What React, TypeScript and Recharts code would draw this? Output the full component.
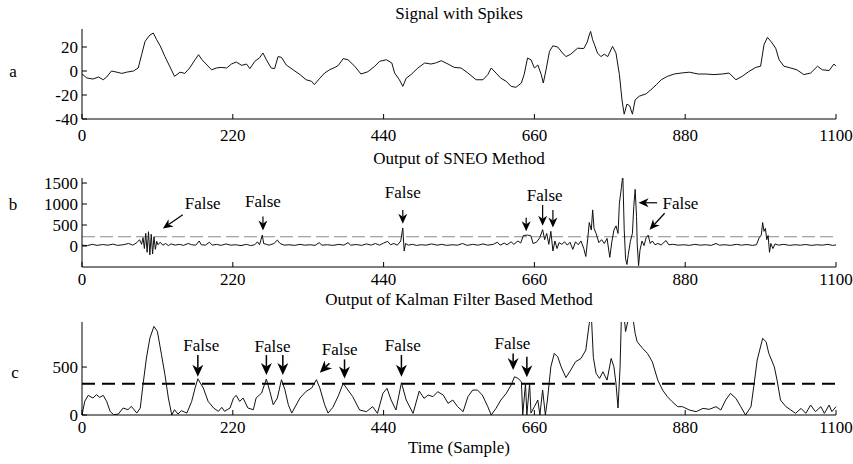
import React from 'react';
import { LineChart, Line, XAxis, YAxis, ReferenceLine, ReferenceDot } from 'recharts';

const FONT = '"Liberation Serif", "Times New Roman", serif';

const xTicks = [0, 220, 440, 660, 880, 1100];

// a: raw signal
const sigT = [0, 7, 16, 24, 31, 36, 43, 51, 58, 65, 75, 82, 87, 92, 99, 104, 109, 114, 121, 127, 135, 143, 150, 157, 165, 170, 175, 181, 189, 196, 203, 211, 218, 225, 233, 240, 245, 252, 259, 264, 269, 276, 281, 286, 291, 298, 308, 318, 327, 335, 339, 347, 354, 361, 369, 374, 381, 388, 398, 407, 417, 427, 434, 444, 452, 456, 463, 468, 473, 480, 490, 500, 509, 516, 524, 534, 543, 553, 563, 575, 585, 592, 597, 604, 611, 619, 626, 633, 641, 645, 650, 655, 660, 665, 670, 673, 677, 682, 687, 694, 701, 706, 713, 723, 732, 737, 740, 742, 745, 747, 752, 757, 762, 767, 774, 779, 784, 788, 791, 795, 799, 803, 807, 813, 823, 830, 838, 845, 854, 864, 874, 886, 899, 910, 922, 934, 944, 954, 963, 973, 983, 990, 995, 1000, 1005, 1012, 1017, 1024, 1034, 1043, 1053, 1063, 1073, 1080, 1090, 1097, 1100];
const sigV = [-2.5, -5.8, -6.7, -5, -7.3, -5, 0, -1, -2, -1, 0, 2.5, 13.6, 24.7, 30, 31.6, 26, 21, 12, 5, -4.5, -1, -2, 2.5, 9.4, 13.6, 9.4, 5.8, 1, 2.5, 3, 2.5, 5.8, 7.5, 4.7, 5.8, 2, 8, 11, 15, 9.4, 2.5, 2, 12, 11.4, 5, 1, -3, -7.3, -8.6, -11.4, -6, -1.7, 1, 3, 4.7, 10.3, 9.4, 3.9, -2.5, -0.6, 3.9, 8, 9.4, 6.7, -1.6, -7.3, -12.8, -6, -3, 2.5, 6.7, 5.8, 6.7, 8.6, 5.8, 3, 2.5, -1.7, -7.3, -7.3, -3, 2.5, -1.7, -6, -8.6, -12.8, -13.6, -10, -3, 10.8, 9.4, 2.5, 5, -3, -10, 1, 16.4, 21, 20, 15, 12, 14, 19, 18.7, 24, 30, 33, 26, 23, 15, 12, 14, 12, 20.5, 15, -3, -25, -36, -27.6, -29, -36, -24, -21, -19, -15.6, -11.4, -7.3, -4.5, -2.5, -1.7, -1, -2.5, -2.5, -3, -2.5, -1.7, -7.3, -4.5, -0.4, 3, 4, 22, 28, 24.7, 19, 9.4, 4, 2.5, 1, -3, -1.7, 4, 1, 0.4, 5.8, 4];

// b: SNEO output
const sneoT = [0, 8, 15, 22, 30, 38, 45, 52, 60, 68, 74, 80, 84, 87, 89, 91, 93, 95, 97, 99, 101, 103, 105, 107, 109, 111, 114, 118, 122, 126, 130, 136, 142, 148, 155, 160, 166, 171, 174, 180, 186, 190, 196, 203, 210, 217, 224, 232, 240, 246, 252, 256, 259, 263, 265, 269, 273, 280, 285, 289, 295, 302, 310, 318, 325, 333, 340, 346, 350, 358, 366, 375, 382, 388, 392, 400, 408, 415, 422, 428, 434, 440, 446, 450, 455, 460, 465, 468, 470, 472, 476, 482, 488, 495, 502, 510, 518, 525, 532, 540, 548, 555, 562, 570, 578, 585, 592, 600, 606, 610, 616, 620, 626, 630, 636, 640, 644, 650, 655, 658, 663, 668, 672, 675, 678, 681, 684, 687, 690, 693, 696, 700, 704, 708, 712, 716, 720, 724, 728, 732, 735, 738, 740, 743, 745, 747, 750, 754, 758, 762, 766, 770, 773, 776, 779, 782, 784, 787, 789, 791, 793, 795, 797, 800, 803, 805, 807, 809, 810, 812, 814, 817, 820, 823, 826, 829, 832, 836, 840, 845, 852, 856, 862, 870, 878, 886, 894, 902, 910, 918, 925, 930, 938, 946, 955, 962, 970, 978, 984, 988, 991, 993, 995, 997, 999, 1001, 1003, 1005, 1008, 1011, 1016, 1024, 1032, 1040, 1048, 1056, 1064, 1072, 1080, 1088, 1095, 1100];
const sneoV = [20, 10, 40, 15, 35, 20, 45, 15, 30, 60, 20, 80, 150, 40, 200, -60, 300, -150, 340, -210, 280, -190, 220, -80, 110, 30, 90, 20, 60, 10, 50, 20, 40, 15, 60, 30, 20, 120, 30, 20, 90, 20, 40, 15, 50, 20, 30, 10, 40, 10, 30, 100, 30, 260, 60, 40, 20, 60, 140, 60, 20, 30, 15, 40, 20, 30, 15, 80, 20, 30, 15, 40, 20, 80, 20, 35, 15, 50, 20, 60, 20, 70, 110, 30, 60, 20, 120, 430, -120, 60, 20, 40, 15, 30, 20, 50, 20, 40, 15, 30, 20, 60, 15, 40, 20, 50, 20, 40, 90, 20, 70, 30, 100, 40, 120, 70, 250, 260, 240, 60, 90, 200, 390, 150, 300, 40, 350, -120, 120, -60, 80, 40, 100, 20, 90, -80, 100, 30, 120, -60, -250, 200, 560, 380, 860, 420, 300, 80, 150, 60, 180, -270, 100, 380, 480, 300, 1020, 1400, 1700, 400, -300, -440, -200, 110, 300, 940, 1350, 700, 50, -470, -100, 120, 10, 200, 260, 60, 120, 30, 60, 25, 130, 30, 40, 20, 30, 15, 40, 20, 30, 15, 60, 20, 30, 15, 40, 20, 35, 15, 30, 200, 260, 560, 350, 420, 150, 250, -150, 60, -60, 50, 20, 40, 15, 30, 20, 35, 15, 30, 20, 40, 15, 25];

// c: Kalman filter output
const kalT = [0, 4, 9, 16, 21, 26, 31, 36, 41, 46, 53, 60, 67, 72, 80, 85, 89, 94, 99, 105, 110, 116, 121, 126, 131, 135, 140, 145, 153, 160, 165, 169, 177, 184, 192, 199, 204, 208, 216, 221, 225, 230, 235, 242, 250, 254, 262, 269, 274, 279, 285, 291, 296, 301, 306, 310, 318, 327, 335, 342, 347, 354, 359, 366, 374, 381, 388, 395, 405, 415, 424, 431, 439, 445, 451, 458, 466, 473, 483, 492, 499, 505, 512, 519, 527, 534, 541, 548, 556, 563, 570, 577, 584, 592, 597, 604, 611, 619, 626, 631, 636, 641, 643, 647, 649, 653, 655, 660, 665, 668, 672, 676, 679, 684, 689, 694, 699, 706, 713, 720, 728, 735, 740, 743, 746, 750, 755, 760, 766, 772, 776, 779, 782, 785, 787, 790, 793, 797, 800, 804, 807, 810, 818, 825, 832, 840, 847, 854, 861, 869, 876, 886, 896, 906, 915, 925, 932, 939, 946, 954, 961, 968, 976, 980, 985, 993, 998, 1002, 1010, 1014, 1019, 1027, 1034, 1041, 1049, 1056, 1063, 1070, 1078, 1083, 1090, 1094, 1100];
const kalV = [0, 142, 205, 177, 212, 184, 205, 142, 38, 3, 10, 73, 55, 90, 20, 73, 316, 594, 802, 924, 872, 628, 420, 177, 0, 55, 10, 45, 20, 142, 281, 378, 281, 142, 73, 38, 80, 38, 73, 177, 205, 142, 177, 73, 55, 177, 229, 375, 247, 107, 177, 368, 264, 107, 20, 73, 177, 247, 281, 368, 281, 107, 20, 80, 200, 330, 260, 191, 52, 35, 87, 17, 226, 278, 156, 52, 337, 156, 17, 250, 174, 208, 191, 243, 208, 122, 156, 87, 35, 191, 260, 260, 208, 87, 0, 69, 156, 226, 312, 399, 382, 347, 0, 330, 0, 330, 20, 87, 156, 0, 260, 0, 156, 503, 642, 608, 503, 390, 469, 555, 590, 677, 955, 1050, 600, 434, 382, 451, 364, 590, 503, 330, 73, 503, 1050, 1100, 870, 1000, 1100, 1000, 850, 764, 694, 642, 555, 364, 260, 191, 139, 87, 87, 52, 35, 69, 59, 87, 52, 156, 226, 174, 87, 0, 87, 295, 573, 799, 764, 642, 503, 364, 156, 87, 52, 17, 69, 17, 104, 35, 87, 17, 104, 35, 87];

// annotations, in data units
const sneoNotes = [
  { x: 176, y: 1023 },
  { x: 264, y: 1054 },
  { x: 468, y: 1288 },
  { x: 675, y: 1211 },
  { x: 873, y: 1023 },
];
const sneoArrows = [
  { from: [147, 742], to: [118, 415] },
  { from: [264, 703], to: [264, 367] },
  { from: [468, 860], to: [468, 532] },
  { from: [648, 672], to: [648, 351] },
  { from: [672, 977], to: [672, 485] },
  { from: [687, 860], to: [687, 438] },
  { from: [839, 1030], to: [812, 1030] },
  { from: [850, 780], to: [828, 390] },
];
const kalNotes = [
  { x: 174, y: 729 },
  { x: 278, y: 711 },
  { x: 376, y: 688 },
  { x: 468, y: 729 },
  { x: 628, y: 747 },
];
const kalArrows = [
  { from: [169, 625], to: [169, 400] },
  { from: [269, 625], to: [269, 417] },
  { from: [293, 625], to: [293, 417] },
  { from: [361, 539], to: [347, 440] },
  { from: [383, 580], to: [383, 382] },
  { from: [466, 625], to: [466, 400] },
  { from: [629, 642], to: [629, 469] },
  { from: [649, 607], to: [649, 393] },
];

const toRows = (t: number[], v: number[]) => t.map((x, i) => ({ t: x, v: v[i] }));

function arrowShape(head: number, half: number, sw: number) {
  return (props: any) => {
    const { x1, y1, x2, y2 } = props;
    const dx = x2 - x1;
    const dy = y2 - y1;
    const len = Math.hypot(dx, dy) || 1;
    const ux = dx / len;
    const uy = dy / len;
    const bx = x2 - ux * head;
    const by = y2 - uy * head;
    const nx = x2 - ux * head * 0.7;
    const ny = y2 - uy * head * 0.7;
    const pts = `${x2},${y2} ${bx - uy * half},${by + ux * half} ${nx},${ny} ${bx + uy * half},${by - ux * half}`;
    return (
      <g>
        <line x1={x1} y1={y1} x2={nx} y2={ny} stroke="#000" strokeWidth={sw} />
        <polygon points={pts} fill="#000" />
      </g>
    );
  };
}

const noteShape = (props: any) => (
  <text
    x={props.cx}
    y={props.cy}
    textAnchor="middle"
    dy="0.33em"
    style={{ fontFamily: FONT, fontSize: 17 }}
    fill="#000"
  >
    False
  </text>
);

const AxisTick = (props: any) => (
  <text
    x={props.x}
    y={props.y}
    textAnchor={props.textAnchor}
    dy={props.verticalAnchor === 'start' ? '0.71em' : '0.33em'}
    style={{ fontFamily: FONT, fontSize: 17 }}
    fill="#000"
  >
    {props.payload.value}
  </text>
);

interface PanelProps {
  top: number;
  height: number;
  marginTop: number;
  xAxisHeight: number;
  tickMargin: number;
  rows: { t: number; v: number }[];
  yDomain: [number, number];
  yTicks: number[];
  threshold?: number;
  thresholdColor?: string;
  thresholdWidth?: number;
  thresholdDash?: string;
  notes?: { x: number; y: number }[];
  arrows?: { from: number[]; to: number[] }[];
  head?: [number, number, number];
}

function Panel(p: PanelProps) {
  const shape = p.head ? arrowShape(p.head[0], p.head[1], p.head[2]) : undefined;
  return (
    <div style={{ position: 'absolute', left: 0, top: p.top }}>
      <LineChart
        width={853}
        height={p.height}
        data={p.rows}
        margin={{ top: p.marginTop, right: 17, left: 22, bottom: 0 }}
      >
        <XAxis
          dataKey="t"
          type="number"
          domain={[0, 1100]}
          ticks={xTicks}
          interval={0}
          height={p.xAxisHeight}
          tickSize={-5}
          tickMargin={p.tickMargin}
          stroke="#000"
          tick={<AxisTick />}
        />
        <XAxis
          xAxisId="top"
          orientation="top"
          dataKey="t"
          type="number"
          domain={[0, 1100]}
          ticks={xTicks}
          interval={0}
          height={0}
          tickSize={-5}
          tick={false}
          stroke="#000"
        />
        <YAxis
          type="number"
          domain={p.yDomain}
          ticks={p.yTicks}
          interval={0}
          allowDataOverflow
          width={60}
          tickSize={-5}
          tickMargin={9}
          stroke="#000"
          tick={<AxisTick />}
        />
        <YAxis
          yAxisId="right"
          orientation="right"
          type="number"
          domain={p.yDomain}
          ticks={p.yTicks}
          interval={0}
          allowDataOverflow
          width={0}
          tickSize={-5}
          tick={false}
          stroke="#000"
        />
        {p.threshold !== undefined && (
          <ReferenceLine
            y={p.threshold}
            stroke={p.thresholdColor}
            strokeWidth={p.thresholdWidth}
            strokeDasharray={p.thresholdDash}
          />
        )}
        <Line
          dataKey="v"
          type="linear"
          dot={false}
          stroke="#111"
          strokeWidth={1}
          isAnimationActive={false}
        />
        {(p.arrows || []).map((a, i) => (
          <ReferenceLine
            key={'a' + i}
            segment={[
              { x: a.from[0], y: a.from[1] },
              { x: a.to[0], y: a.to[1] },
            ]}
            shape={shape}
          />
        ))}
        {(p.notes || []).map((n, i) => (
          <ReferenceDot key={'n' + i} x={n.x} y={n.y} r={0} shape={noteShape} />
        ))}
      </LineChart>
    </div>
  );
}

const label = (text: string, x: number, y: number) => (
  <div
    style={{
      position: 'absolute',
      left: x,
      top: y,
      transform: 'translate(-50%, -50%)',
      fontFamily: FONT,
      fontSize: 17,
      lineHeight: 1,
      whiteSpace: 'nowrap',
      color: '#000',
    }}
  >
    {text}
  </div>
);

export default function App() {
  return (
    <div style={{ position: 'absolute', left: 0, top: 0, width: 853, height: 464, background: '#fff' }}>
      <Panel
        top={0}
        height={150}
        marginTop={29}
        xAxisHeight={31}
        tickMargin={15}
        rows={toRows(sigT, sigV)}
        yDomain={[-40, 35]}
        yTicks={[-40, -20, 0, 20]}
      />
      <Panel
        top={150}
        height={150}
        marginTop={28}
        xAxisHeight={33}
        tickMargin={11}
        rows={toRows(sneoT, sneoV)}
        yDomain={[-500, 1620]}
        yTicks={[0, 500, 1000, 1500]}
        threshold={220}
        thresholdColor="#8a8a8a"
        thresholdWidth={1.2}
        thresholdDash="13 5"
        notes={sneoNotes}
        arrows={sneoArrows}
        head={[10, 4.5, 1.2]}
      />
      <Panel
        top={300}
        height={164}
        marginTop={22}
        xAxisHeight={49}
        tickMargin={11}
        rows={toRows(kalT, kalV)}
        yDomain={[0, 970]}
        yTicks={[0, 500]}
        threshold={325}
        thresholdColor="#000"
        thresholdWidth={2}
        thresholdDash="13 7"
        notes={kalNotes}
        arrows={kalArrows}
        head={[12, 5.5, 1.5]}
      />
      {label('Signal with Spikes', 459, 13)}
      {label('Output of SNEO Method', 459, 158)}
      {label('Output of Kalman Filter Based Method', 459, 299)}
      {label('Time (Sample)', 459, 447)}
      {label('a', 13, 71)}
      {label('b', 13, 204)}
      {label('c', 15, 372)}
    </div>
  );
}
